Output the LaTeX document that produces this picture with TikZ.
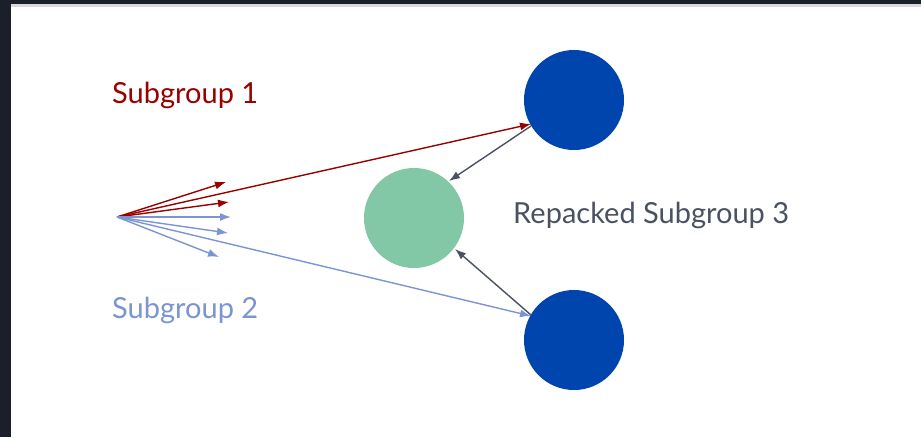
\documentclass[tikz,border=0pt]{standalone}
\usepackage{fontspec}
\setmainfont{Lato}
\usetikzlibrary{arrows.meta}
\definecolor{frame}{HTML}{1A1F29}
\definecolor{sgred}{HTML}{990000}
\definecolor{sgblue}{HTML}{7B95D3}
\definecolor{dblue}{HTML}{0045AD}
\definecolor{mgreen}{HTML}{82C7A6}
\definecolor{tgray}{HTML}{4A5262}
\begin{document}
\begin{tikzpicture}[x=1pt,y=-1pt,
  blob/.style={circle,inner sep=0pt,minimum size=100pt},
  redarr/.style={draw=sgred,line width=1.4pt,-{Latex[length=11pt,width=8pt]}},
  bluearr/.style={draw=sgblue,line width=1.4pt,-{Latex[length=11pt,width=8pt]}},
  grayarr/.style={draw=tgray,line width=1.4pt,-{Latex[length=11pt,width=8pt]}},
  lbl/.style={font=\fontsize{29}{34}\selectfont,anchor=base west,inner sep=0pt}]
\fill[frame] (0,0) rectangle (921,437);
\fill[gray!30] (11,4) rectangle (921,7);
\fill[white] (11,7) rectangle (921,437);
\useasboundingbox (0,0) rectangle (921,437);
\node[blob,fill=dblue] (top) at (574,100) {};
\node[blob,fill=dblue] (bot) at (574,340) {};
\node[blob,fill=mgreen] (mid) at (414,218) {};
\coordinate (o) at (117,217);
\coordinate (r1) at (226,182);
\coordinate (r2) at (229,202);
\coordinate (b1) at (231,217);
\coordinate (b2) at (228,233);
\coordinate (b3) at (219,257);
\coordinate (tin) at (531,124);
\coordinate (bin) at (531,316);
\draw[redarr] (o) -- (r1);
\draw[redarr] (o) -- (r2);
\draw[redarr] (o) -- (tin);
\draw[bluearr] (o) -- (b1);
\draw[bluearr] (o) -- (b2);
\draw[bluearr] (o) -- (b3);
\draw[bluearr] (o) -- (bin);
\coordinate (ts) at (531,126);
\coordinate (bs) at (531,315);
\draw[grayarr] (ts) -- (449,181);
\draw[grayarr] (bs) -- (455,249);
\node[lbl,text=sgred] (l1) at (112,103) {Subgroup 1};
\node[lbl,text=sgblue] (l2) at (112,318) {Subgroup 2};
\node[lbl,text=tgray] (l3) at (513,223) {Repacked Subgroup 3};
\end{tikzpicture}
\end{document}
